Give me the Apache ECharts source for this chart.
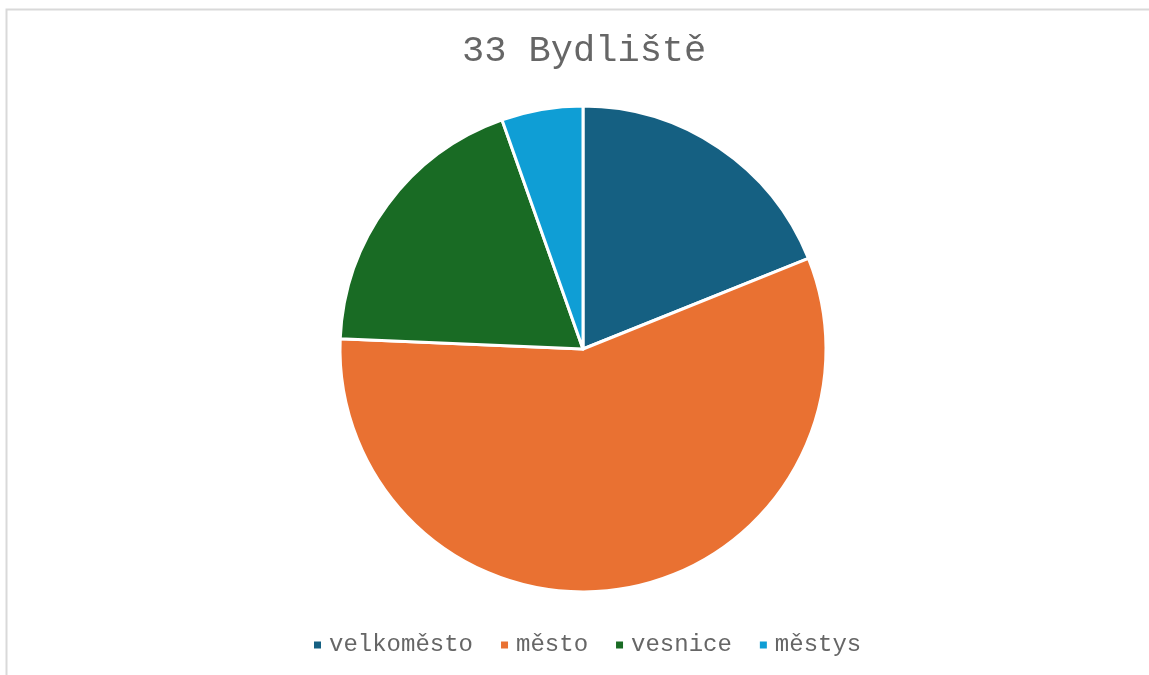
<!DOCTYPE html>
<html>
<head>
<meta charset="utf-8">
<script src="https://cdn.jsdelivr.net/npm/echarts@6/dist/echarts.min.js"></script>
<style>
  html, body { margin: 0; padding: 0; background: #fff; }
  #chart { width: 1149px; height: 675px; }
</style>
</head>
<body>
<div id="chart"></div>
<script>
// data
const categories = ['velkoměsto', 'město', 'vesnice', 'městys']
const counts = [7, 21, 7, 2]
const colors = ['#156082', '#E97132', '#196B24', '#0F9ED5']

const chart = echarts.init(document.getElementById('chart'))
const font = '"Liberation Mono", "Courier New", monospace'

chart.setOption({
  animation: false,
  color: colors,
  // light frame round the chart area
  graphic: [{
    type: 'rect',
    shape: { x: 6.5, y: 9.5, width: 1200, height: 700 },
    style: { fill: 'none', stroke: '#d9d9d9', lineWidth: 2 },
    silent: true,
  }],
  title: {
    text: '33 Bydliště',
    left: 457,
    top: 28,
    textStyle: { fontFamily: font, fontSize: 37, fontWeight: 'normal', color: '#666666' },
  },
  legend: {
    bottom: 13,
    left: 307,
    icon: 'rect',
    itemWidth: 9,
    itemHeight: 9,
    itemGap: 26,
    textStyle: { fontFamily: font, fontSize: 24, color: '#666666', padding: [0, 0, 0, 2] },
    data: categories,
  },
  series: [{
    type: 'pie',
    center: [583, 349],
    radius: 243,
    startAngle: 90,
    clockwise: true,
    label: { show: false },
    labelLine: { show: false },
    itemStyle: { borderColor: '#fff', borderWidth: 3 },
    data: categories.map((name, i) => ({ name, value: counts[i] })),
  }],
})
</script>
</body>
</html>
